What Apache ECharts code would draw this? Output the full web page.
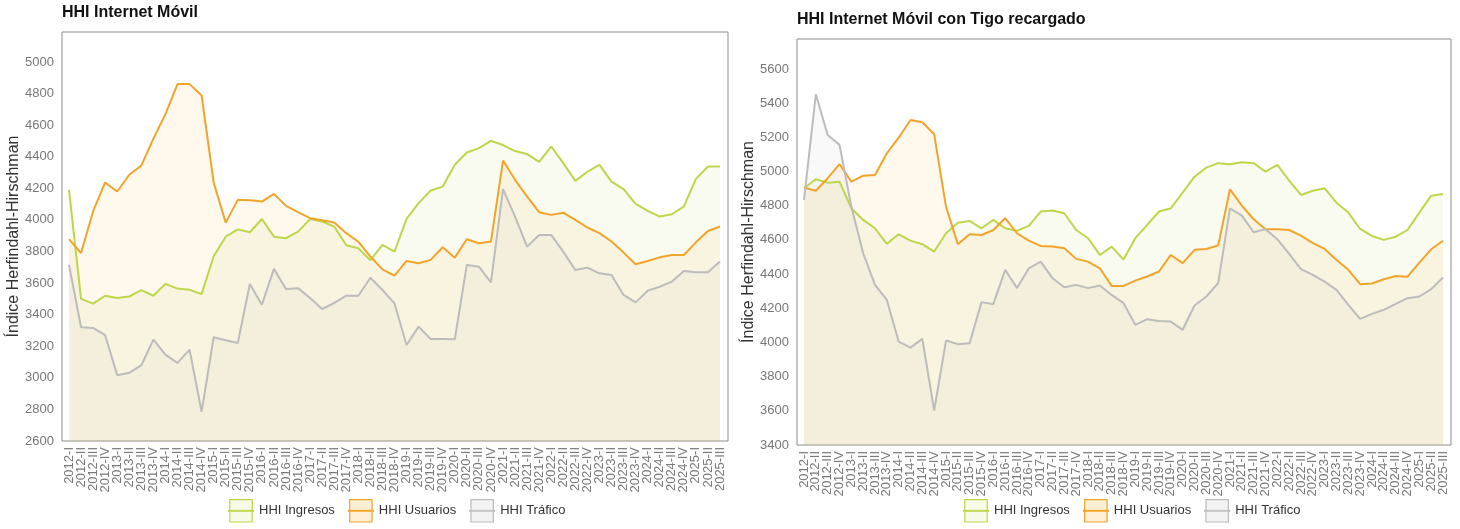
<!DOCTYPE html>
<html>
<head>
<meta charset="utf-8">
<title>HHI Internet Móvil</title>
<script src="https://cdn.jsdelivr.net/npm/echarts@6/dist/echarts.min.js"></script>
<style>
  html, body { margin: 0; padding: 0; background: #fff; }
  #main { width: 1460px; height: 529px; }
</style>
</head>
<body>
<div id="main"></div>
<script>
// trimestres 2012-I .. 2025-III
var categorias = [
  '2012-I', '2012-II', '2012-III', '2012-IV', '2013-I', '2013-II', '2013-III', '2013-IV',
  '2014-I', '2014-II', '2014-III', '2014-IV', '2015-I', '2015-II', '2015-III', '2015-IV',
  '2016-I', '2016-II', '2016-III', '2016-IV', '2017-I', '2017-II', '2017-III', '2017-IV',
  '2018-I', '2018-II', '2018-III', '2018-IV', '2019-I', '2019-II', '2019-III', '2019-IV',
  '2020-I', '2020-II', '2020-III', '2020-IV', '2021-I', '2021-II', '2021-III', '2021-IV',
  '2022-I', '2022-II', '2022-III', '2022-IV', '2023-I', '2023-II', '2023-III', '2023-IV',
  '2024-I', '2024-II', '2024-III', '2024-IV', '2025-I', '2025-II', '2025-III'
];

// panel izquierdo: HHI Internet Móvil
var ingresos = [4190, 3500, 3470, 3520, 3505, 3515, 3555, 3520, 3595, 3565, 3558, 3530,
  3770, 3894, 3940, 3922, 4006, 3894, 3884, 3926, 4005, 3990, 3958, 3840,
  3820, 3745, 3842, 3799, 4006, 4106, 4186, 4211, 4349, 4427, 4455, 4501,
  4474, 4436, 4417, 4368, 4465, 4360, 4247, 4305, 4349, 4243, 4195, 4102,
  4057, 4021, 4036, 4084, 4260, 4338, 4338];
var usuarios = [3878, 3790, 4055, 4237, 4180, 4286, 4345, 4515, 4670, 4860, 4860, 4788,
  4237, 3983, 4127, 4125, 4116, 4165, 4089, 4049, 4011, 3998, 3983, 3916,
  3862, 3768, 3687, 3647, 3740, 3726, 3747, 3827, 3761, 3878, 3852, 3863,
  4376, 4254, 4148, 4049, 4032, 4046, 4000, 3952, 3916, 3863, 3793, 3719,
  3740, 3763, 3778, 3778, 3858, 3930, 3958];
var trafico = [3716, 3320, 3316, 3270, 3017, 3032, 3080, 3242, 3147, 3095, 3179, 2785,
  3257, 3238, 3221, 3594, 3463, 3690, 3562, 3568, 3505, 3436, 3474, 3520,
  3520, 3634, 3556, 3471, 3208, 3324, 3246, 3246, 3244, 3715, 3704, 3605,
  4195, 4021, 3831, 3905, 3905, 3799, 3683, 3698, 3662, 3651, 3525, 3478,
  3552, 3577, 3609, 3677, 3668, 3668, 3736];

// panel derecho: con Tigo recargado
var ingresosTigo = [4902, 4955, 4935, 4941, 4785, 4717, 4668, 4577, 4633, 4596, 4575, 4532,
  4639, 4701, 4711, 4668, 4717, 4668, 4653, 4682, 4766, 4772, 4756, 4658,
  4610, 4512, 4561, 4485, 4610, 4688, 4766, 4785, 4877, 4970, 5023, 5049,
  5043, 5054, 5049, 4999, 5039, 4947, 4863, 4888, 4902, 4818, 4760, 4664,
  4623, 4600, 4619, 4658, 4760, 4859, 4869];
var usuariosTigo = [4906, 4888, 4961, 5043, 4941, 4976, 4980, 5107, 5198, 5302, 5288, 5218,
  4795, 4575, 4633, 4629, 4658, 4727, 4639, 4596, 4565, 4561, 4551, 4489,
  4473, 4434, 4331, 4331, 4362, 4386, 4415, 4512, 4464, 4542, 4547, 4568,
  4896, 4801, 4721, 4663, 4663, 4658, 4625, 4581, 4547, 4483, 4425, 4341,
  4345, 4370, 4389, 4385, 4467, 4545, 4595];
var traficoTigo = [4834, 5452, 5214, 5156, 4795, 4522, 4337, 4249, 4005, 3970, 4021, 3602,
  4011, 3990, 3996, 4236, 4224, 4425, 4318, 4434, 4473, 4376, 4323, 4337,
  4318, 4333, 4278, 4230, 4103, 4136, 4126, 4122, 4074, 4216, 4269, 4347,
  4785, 4742, 4645, 4663, 4604, 4518, 4429, 4395, 4356, 4308, 4220, 4138,
  4167, 4191, 4226, 4259, 4269, 4312, 4380];

var nombres = ['HHI Ingresos', 'HHI Usuarios', 'HHI Tráfico'];
var colLinea = ['#bdd64b', '#f2a42a', '#bcbcbc'];
var colArea = ['rgba(197,213,80,0.12)', 'rgba(245,170,50,0.12)', 'rgba(190,190,200,0.13)'];
var colCaja = ['rgba(210,228,120,0.18)', 'rgba(245,180,70,0.22)', 'rgba(215,215,220,0.3)'];
var fuente = '"Liberation Sans", Arial, sans-serif';

function serie(i, datos, eje) {
  return {
    name: nombres[i],
    type: 'line',
    data: datos,
    xAxisIndex: eje,
    yAxisIndex: eje,
    symbol: 'rect',
    showSymbol: false,
    lineStyle: { color: colLinea[i], width: 2 },
    itemStyle: { color: colLinea[i] },
    areaStyle: { color: colArea[i] },
    emphasis: { disabled: true }
  };
}

function leyenda(left) {
  return {
    left: left,
    top: 499,
    padding: 0,
    itemWidth: 26,
    itemHeight: 28,
    itemGap: 12,
    textStyle: { fontSize: 13, color: '#333', fontFamily: fuente },
    data: nombres.map(function (n, i) {
      return {
        name: n,
        itemStyle: { color: colCaja[i], borderColor: colLinea[i], borderWidth: 1.2 },
        lineStyle: { color: colLinea[i], width: 2 }
      };
    })
  };
}

function ejeX(grid) {
  return {
    gridIndex: grid,
    type: 'category',
    data: categorias,
    boundaryGap: false,
    axisLine: { show: false },
    axisTick: { show: false },
    axisLabel: { interval: 0, rotate: 90, fontSize: 13, color: '#7a7a7a', margin: 6, fontFamily: fuente }
  };
}

function ejeY(grid, min, max) {
  return {
    gridIndex: grid,
    type: 'value',
    min: min,
    max: max,
    interval: 200,
    offset: 7,
    axisLine: { show: false },
    axisTick: { show: false },
    splitLine: { show: false },
    axisLabel: {
      color: '#777', fontSize: 13, margin: 8, fontFamily: fuente,
      formatter: function (v) { return String(v); }
    }
  };
}

// ejes del marco: solo dibujan el nombre del eje
function ejeMarco(grid) {
  return {
    gridIndex: grid,
    type: 'value',
    name: 'Índice Herfindahl-Hirschman',
    nameLocation: 'middle',
    nameGap: 40,
    nameTextStyle: { fontSize: 16, color: '#333', fontFamily: fuente },
    axisLine: { show: false },
    axisTick: { show: false },
    axisLabel: { show: false },
    splitLine: { show: false }
  };
}

var chart = echarts.init(document.getElementById('main'));

var option = {
  animation: false,
  backgroundColor: '#fff',
  title: [
    { text: 'HHI Internet Móvil', left: 62, top: 5, padding: 0,
      textStyle: { fontSize: 16, fontWeight: 'bold', color: '#111', fontFamily: fuente } },
    { text: 'HHI Internet Móvil con Tigo recargado', left: 797, top: 12, padding: 0,
      textStyle: { fontSize: 16, fontWeight: 'bold', color: '#111', fontFamily: fuente } }
  ],
  legend: [leyenda(227), leyenda(962)],
  grid: [
    { left: 69, right: 740, top: 62, bottom: 88 },
    { left: 62, right: 732, top: 32, bottom: 88, show: true, borderColor: '#8c8c8c', borderWidth: 1 },
    { left: 804, right: 17, top: 69, bottom: 84 },
    { left: 797, right: 9, top: 39, bottom: 84, show: true, borderColor: '#8c8c8c', borderWidth: 1 }
  ],
  xAxis: [
    ejeX(0),
    { gridIndex: 1, type: 'value', show: false },
    ejeX(2),
    { gridIndex: 3, type: 'value', show: false }
  ],
  yAxis: [
    ejeY(0, 2600, 5000),
    ejeMarco(1),
    ejeY(2, 3400, 5600),
    ejeMarco(3)
  ],
  series: [
    serie(0, ingresos, 0),
    serie(1, usuarios, 0),
    serie(2, trafico, 0),
    serie(0, ingresosTigo, 2),
    serie(1, usuariosTigo, 2),
    serie(2, traficoTigo, 2)
  ]
};

chart.setOption(option);
</script>
</body>
</html>
